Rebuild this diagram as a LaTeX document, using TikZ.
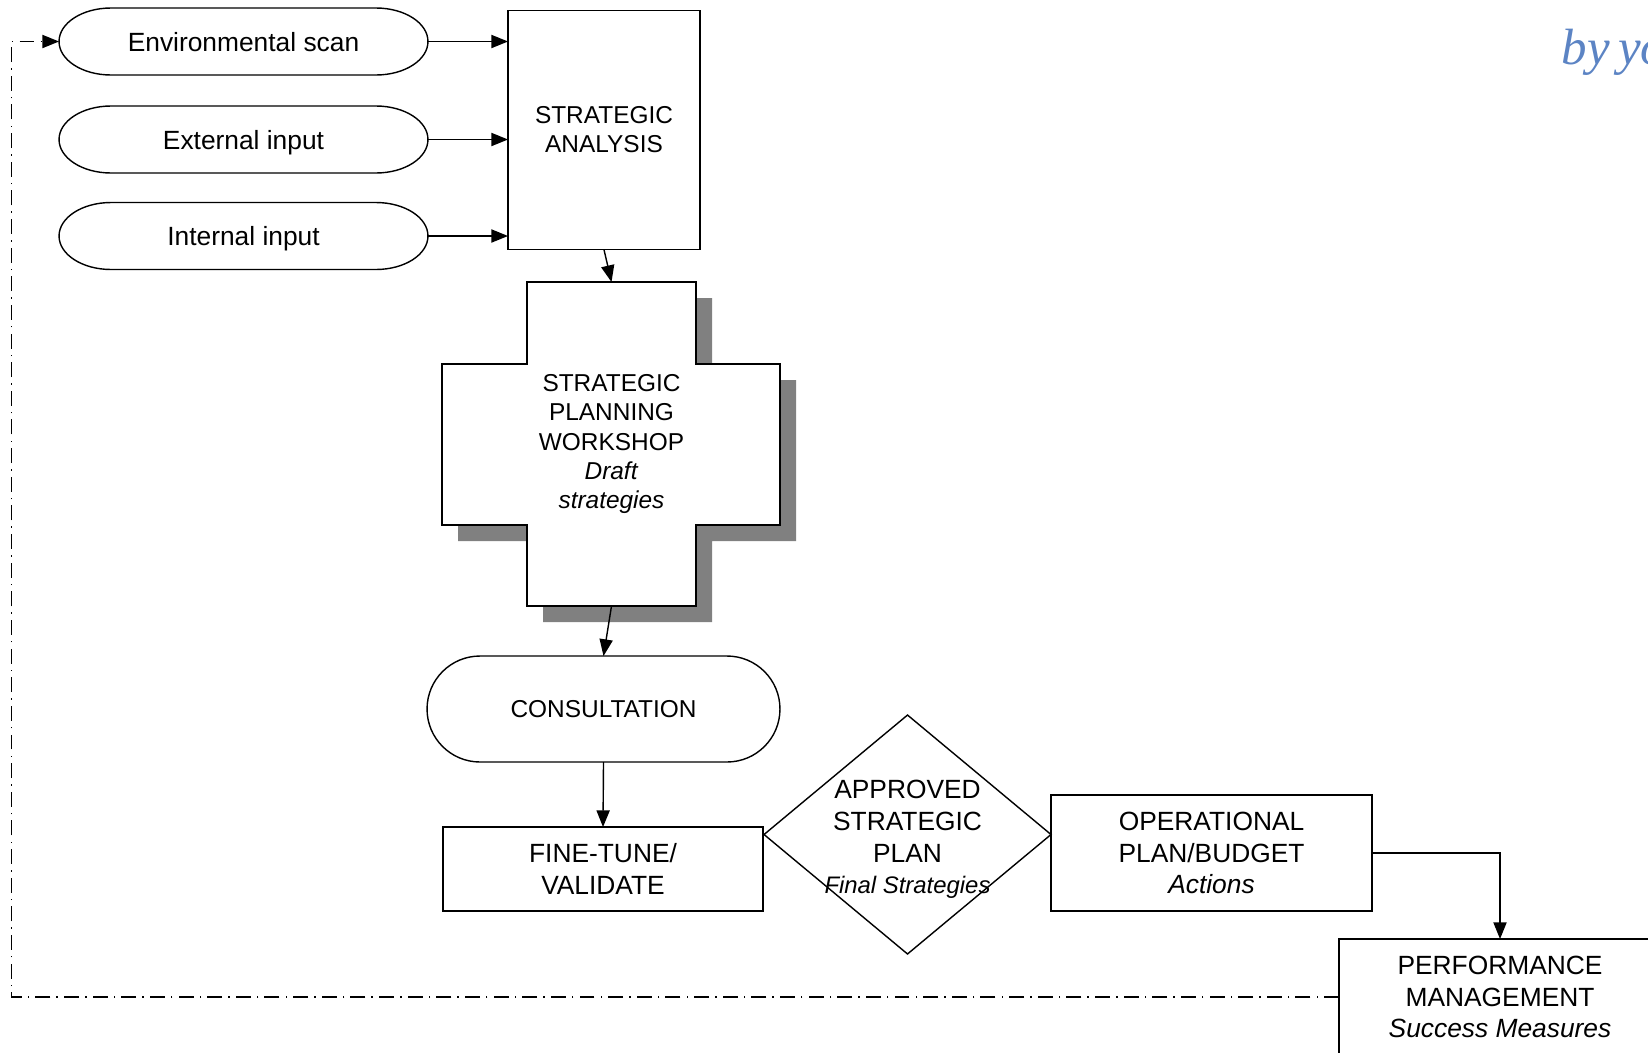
\documentclass[tikz,border=0pt]{standalone}
\usepackage{fontspec}
\setmainfont{Liberation Sans}
\newfontfamily\sigfont{Liberation Serif}
\usetikzlibrary{arrows.meta,shapes.geometric}
\definecolor{shadowgray}{RGB}{128,128,128}
\definecolor{inkblue}{RGB}{92,132,196}

\begin{document}
\begin{tikzpicture}[x=0.02cm,y=-0.02cm,line width=0.8pt,
  big/.style={font=\fontsize{15}{18}\selectfont},
  small/.style={font=\fontsize{13.9}{16.6}\selectfont},
  input/.style={big,minimum width=7.38cm,minimum height=1.34cm,inner sep=0,outer sep=0,text depth=0pt},
  box/.style={draw,align=center,inner sep=0,outer sep=0},
  arr/.style={-{Triangle[length=9.5pt,width=7.5pt]}},
  feedback/.style={arr,dash pattern=on 8.5pt off 3.5pt on 0.8pt off 3.5pt}]
  \useasboundingbox (0,0) rectangle (1648,1052);
  \clip (0,0) rectangle (1648,1052);

  \node[input] (env) at (243.5,41.5) {Environmental scan};
  \node[input] (ext) at (243.5,139.5) {External input};
  \node[input] (int) at (243.5,236) {Internal input};
  \foreach \e in {env,ext,int}
    \draw ([xshift=1.04cm]\e.north west) -- ([xshift=-1.04cm]\e.north east)
      arc[start angle=90,end angle=-90,x radius=1.04cm,y radius=0.67cm]
      -- ([xshift=1.04cm]\e.south west)
      arc[start angle=270,end angle=90,x radius=1.04cm,y radius=0.67cm] -- cycle;

  \node[box,small,minimum width=3.84cm,minimum height=4.79cm] (analysis) at (604,130) {STRATEGIC\\ANALYSIS};
  \foreach \e in {env,ext,int}
    \draw[arr] (\e.east) -- (\e.east -| analysis.west);

  % workshop cross
  \fill[shadowgray,shift={(16,16)}] (527,282) -- (696,282) -- (696,364) -- (780,364) -- (780,525) -- (696,525)
    -- (696,606) -- (527,606) -- (527,525) -- (442,525) -- (442,364) -- (527,364) -- cycle;
  \draw[fill=white] (527,282) -- (696,282) -- (696,364) -- (780,364) -- (780,525) -- (696,525)
    -- (696,606) -- (527,606) -- (527,525) -- (442,525) -- (442,364) -- (527,364) -- cycle;
  \node[small,align=center,minimum width=3.38cm,minimum height=6.48cm,inner sep=0,outer sep=0] (workshop) at (611.5,444)
    {STRATEGIC\\PLANNING\\WORKSHOP\\\textit{Draft}\\\textit{strategies}};

  \node[draw,small,rounded corners=1.06cm,minimum width=7.06cm,minimum height=2.12cm,inner sep=0,outer sep=0] (consult) at (603.5,709) {CONSULTATION};
  \node[box,big,minimum width=6.4cm,minimum height=1.68cm] (finetune) at (603,869) {FINE-TUNE/\\VALIDATE};
  \node[draw,diamond,minimum width=5.74cm,minimum height=4.78cm,inner sep=0,outer sep=0,
    label={[big,align=center,yshift=-0.1cm]center:{APPROVED\\STRATEGIC\\PLAN\\\fontsize{13.6}{18}\selectfont\textit{Final Strategies}}}] (approved) at (907.5,834.5) {};
  \node[box,big,minimum width=6.42cm,minimum height=2.32cm] (oper) at (1211.5,853) {OPERATIONAL\\PLAN/BUDGET\\\textit{Actions}};
  \node[box,big,minimum width=6.44cm,minimum height=2.32cm] (perf) at (1500,997) {PERFORMANCE\\MANAGEMENT\\\textit{Success Measures}};

  \draw[arr] (analysis.south) -- (workshop.north);
  \draw[arr] (workshop.south) -- (consult.north);
  \draw[arr] (consult.south) -- (finetune.north);
  \draw[arr] (oper.east) -| (perf.north);
  \coordinate (loop) at (11.5,0);
  \draw[feedback] (perf.west) -- (perf.west -| loop) |- (env.west);

  \node[inkblue,font=\fontsize{29}{31}\selectfont\sigfont\itshape,anchor=base west,inner sep=0] (sig) at (1561,64) {by\,yo};
\end{tikzpicture}
\end{document}
